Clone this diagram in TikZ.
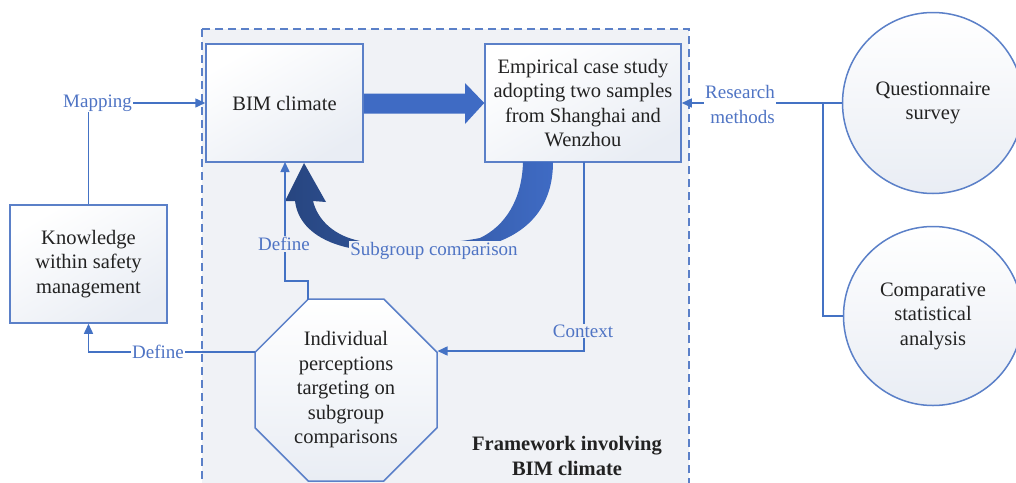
\documentclass[tikz,border=0pt]{standalone}
\usepackage{fontspec}
\setmainfont{Liberation Serif}
\usetikzlibrary{arrows.meta,shapes.geometric,calc}
\definecolor{lc}{HTML}{5B80C8}
\definecolor{ac}{HTML}{4472C4}
\definecolor{tc}{HTML}{4F74C4}
\definecolor{bgc}{HTML}{F0F2F6}
\definecolor{txt}{HTML}{222222}
\definecolor{dk}{HTML}{27457F}
\definecolor{md}{HTML}{3F6BC4}
\definecolor{boxlo}{HTML}{E9EDF4}
\begin{document}
\begin{tikzpicture}[x=1pt,y=-1pt,
  every node/.style={font=\fontsize{20.5}{24.5}\selectfont, text=txt},
  box/.style={draw=lc, line width=1.5pt, top color=white, bottom color=boxlo, shading angle=30, align=center, inner sep=0pt},
  circ/.style={circle, draw=lc, line width=1.5pt, top color=white, bottom color=boxlo, align=center, inner sep=0pt},
  octa/.style={regular polygon, regular polygon sides=8, draw=lc, line width=1.5pt, top color=white, bottom color=boxlo, align=center, inner sep=0pt},
  conn/.style={draw=ac, line width=1.5pt, -{Triangle[length=10pt,width=9pt]}},
  plain/.style={draw=ac, line width=1.5pt},
  lbl/.style={text=tc, inner sep=1pt, align=center, font=\fontsize{19}{24.5}\selectfont},
  frame/.style={draw=lc, line width=1.4pt, dash pattern=on 8pt off 5pt, fill=bgc}]
\useasboundingbox (0,0) rectangle (1016,482);
\fill[white] (0,0) rectangle (1016,482);
% framework area
\draw[frame] (202,29) rectangle (689,495);
% nodes
\node[box, minimum width=157pt, minimum height=118pt] (bim) at (284.5,103) {BIM climate};
\node[box, minimum width=196pt, minimum height=118pt] (emp) at (583,103) {Empirical case study\\adopting two samples\\from Shanghai and\\Wenzhou};
\node[box, minimum width=157pt, minimum height=118pt] (know) at (88.5,264) {Knowledge\\within safety\\management};
\node[octa, minimum size=197pt] (oct) at (346,390) {Individual\\perceptions\\targeting on\\subgroup\\comparisons};
\node[circ, minimum size=181pt] (q) at (933,103) {Questionnaire\\survey};
\node[circ, minimum size=179pt] (c) at (933,316) {Comparative\\statistical\\analysis};
\node[font=\fontsize{20.5}{24.5}\selectfont\bfseries, align=center] (fw) at (567,456) {Framework involving\\BIM climate};
% big straight arrow
\fill[md] (bim.east) ++(0,-9.5) -- (465,93.5) -- (465,83) -- (emp.west) -- (465,124) -- (465,113.5) -- ($(bim.east)+(0,10.5)$) -- cycle;
% curved arrow
\shade[left color=dk, right color=md]
  (523,162) -- (553,162)
  .. controls (553,205) and (530,234) .. (485,246)
  .. controls (440,254) and (390,254) .. (355,249)
  .. controls (320,243) and (298,226) .. (295,201)
  -- (285,201) -- (304,163) -- (326,202) -- (313,201)
  .. controls (318,221) and (335,236) .. (360,241)
  .. controls (400,246) and (450,244) .. (480,238)
  .. controls (505,226) and (522,200) .. (523,162) -- cycle;
\node[lbl, fill=bgc] (sg) at (434,251) {Subgroup comparison};
% Mapping
\draw[conn] (know.north) |- (bim.west);
\node[lbl, fill=white] (map) at (97.5,103) {Mapping};
% Define (left)
\coordinate (dl) at (255,352);
\draw[conn] (dl) -| (know.south);
\node[lbl, fill=white] (def1) at (158,352) {Define};
% Define (up)
\coordinate (du0) at (308,299.5);
\coordinate (du1) at (285,162);
\draw[conn] (du0) -- (308,281) -| (du1);
\node[lbl, fill=bgc] (def2) at (284,244) {Define};
% Context
\coordinate (cx) at (584,162);
\coordinate (ce) at (437.5,351);
\draw[conn] (cx) |- (ce);
\node[lbl, fill=bgc] (ctx) at (583,331) {Context};
% Research methods
\coordinate (rj) at (823,103);
\draw[plain] (q.west) -- (rj) |- (c.west);
\draw[conn] (rj) -- (emp.east);
\node[lbl, fill=white, align=right] (rm) at (740,104.5) {Research\\methods};
\end{tikzpicture}
\end{document}
